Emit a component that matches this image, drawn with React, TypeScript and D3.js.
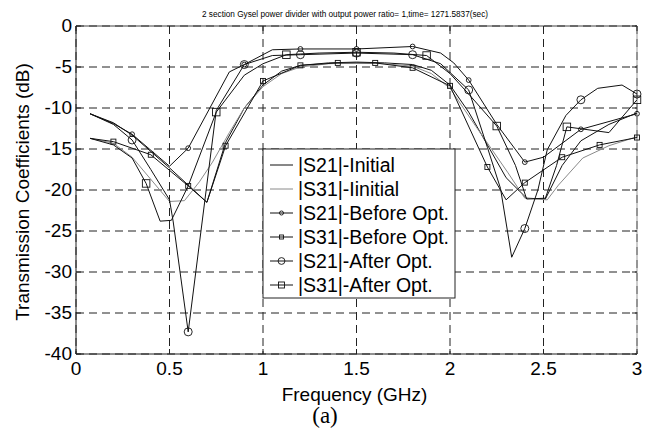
import React from 'react';
import * as d3 from 'd3';

const W = 655;
const H = 432;

const xTicks = [0, 0.5, 1, 1.5, 2, 2.5, 3];
const yTicks = [0, -5, -10, -15, -20, -25, -30, -35, -40];

const title = '2 section Gysel power divider with output power ratio= 1,time= 1271.5837(sec)';
const xLabel = 'Frequency (GHz)';
const yLabel = 'Transmission Coefficients (dB)';
const caption = '(a)';

// |S21|-Initial
const s21InitF = [0.075, 0.2, 0.3, 0.5, 0.7, 0.8, 0.9, 1.0, 1.1, 1.2, 1.35, 1.5, 1.65, 1.8, 1.9, 2.0, 2.1, 2.2, 2.3, 2.41, 2.51, 2.6, 2.7, 2.85, 3.0];
const s21InitDb = [-10.7, -11.8, -13.3, -17.3, -21.5, -14.2, -10.0, -7.2, -5.5, -4.8, -4.5, -4.4, -4.5, -4.7, -5.4, -7.2, -10.5, -14.5, -18.5, -21.0, -21.1, -17.0, -14.0, -12.0, -10.6];

// |S31|-Iinitial
const s31InitF = [0.075, 0.2, 0.3, 0.5, 0.58, 0.66, 0.73, 0.82, 0.9, 1.0, 1.1, 1.2, 1.35, 1.5, 1.65, 1.8, 1.9, 2.0, 2.14, 2.31, 2.4, 2.52, 2.58, 2.71, 2.85, 3.0];
const s31InitDb = [-13.7, -14.3, -16.0, -21.4, -21.3, -19.0, -16.6, -13.0, -10.0, -7.4, -5.8, -5.0, -4.6, -4.5, -4.6, -4.9, -5.8, -7.6, -12.3, -17.9, -21.0, -21.2, -19.4, -16.1, -14.6, -13.5];

// |S21|-Before Opt.
const s21BeforeF = [0.075, 0.2, 0.3, 0.5, 0.6, 0.82, 0.9, 1.05, 1.2, 1.5, 1.8, 1.95, 2.02, 2.1, 2.25, 2.4, 2.5, 2.7, 3.0];
const s21BeforeDb = [-10.7, -11.9, -13.2, -17.1, -14.9, -5.6, -4.7, -2.9, -2.8, -2.8, -2.5, -3.3, -4.5, -6.6, -12.0, -16.6, -16.0, -12.6, -10.7];
const s21BeforeMarks = [0.3, 0.6, 0.9, 1.2, 1.5, 1.8, 2.1, 2.4, 2.7, 3.0];

// |S31|-Before Opt.
const s31BeforeF = [0.075, 0.2, 0.4, 0.6, 0.7, 0.8, 1.0, 1.2, 1.4, 1.6, 1.8, 2.0, 2.2, 2.3, 2.4, 2.6, 2.8, 3.0];
const s31BeforeDb = [-13.7, -14.1, -15.7, -19.5, -21.5, -14.6, -6.7, -4.8, -4.5, -4.5, -5.1, -7.3, -17.2, -21.2, -19.1, -16.0, -14.5, -13.6];
const s31BeforeMarks = [0.2, 0.4, 0.6, 0.8, 1.0, 1.2, 1.4, 1.6, 1.8, 2.0, 2.2, 2.4, 2.6, 2.8, 3.0];

// |S21|-After Opt.
const s21AfterF = [0.075, 0.2, 0.3, 0.4, 0.5, 0.52, 0.6, 0.75, 0.9, 1.05, 1.2, 1.5, 1.8, 1.95, 2.1, 2.2, 2.27, 2.33, 2.4, 2.47, 2.52, 2.62, 2.7, 2.79, 2.92, 3.0];
const s21AfterDb = [-10.7, -12.0, -13.9, -17.5, -21.2, -23.9, -37.3, -10.3, -4.7, -3.6, -3.5, -3.3, -3.5, -4.6, -7.8, -14.8, -19.8, -28.2, -24.7, -20.0, -15.1, -10.9, -9.0, -7.6, -7.2, -8.3];
const s21AfterMarks = [0.3, 0.6, 0.9, 1.2, 1.5, 1.8, 2.1, 2.4, 2.7, 3.0];

// |S31|-After Opt.
const s31AfterF = [0.075, 0.2, 0.3, 0.375, 0.45, 0.51, 0.6, 0.75, 0.9, 1.0, 1.125, 1.3, 1.5, 1.7, 1.875, 2.0, 2.1, 2.25, 2.35, 2.41, 2.51, 2.57, 2.625, 2.85, 3.0];
const s31AfterDb = [-13.7, -14.5, -16.1, -19.2, -23.8, -23.7, -19.5, -10.5, -6.0, -4.6, -3.5, -3.3, -3.2, -3.3, -3.6, -5.8, -8.3, -12.2, -17.0, -21.1, -21.0, -17.0, -12.3, -13.0, -9.0];
const s31AfterMarks = [0.375, 0.75, 1.125, 1.5, 1.875, 2.25, 2.625, 3.0];

const legendLabels = ['|S21|-Initial', '|S31|-Iinitial', '|S21|-Before Opt.', '|S31|-Before Opt.', '|S21|-After Opt.', '|S31|-After Opt.'];

type Marker = 'none' | 'circle' | 'square';
interface Series {
  f: number[];
  db: number[];
  marks: number[];
  marker: Marker;
  size: number;
  color: string;
  label: string;
}

const series: Series[] = [
  { f: s21InitF, db: s21InitDb, marks: [], marker: 'none', size: 0, color: '#111', label: legendLabels[0] },
  { f: s31InitF, db: s31InitDb, marks: [], marker: 'none', size: 0, color: '#8a8a8a', label: legendLabels[1] },
  { f: s21BeforeF, db: s21BeforeDb, marks: s21BeforeMarks, marker: 'circle', size: 2.4, color: '#111', label: legendLabels[2] },
  { f: s31BeforeF, db: s31BeforeDb, marks: s31BeforeMarks, marker: 'square', size: 5, color: '#111', label: legendLabels[3] },
  { f: s21AfterF, db: s21AfterDb, marks: s21AfterMarks, marker: 'circle', size: 4, color: '#111', label: legendLabels[4] },
  { f: s31AfterF, db: s31AfterDb, marks: s31AfterMarks, marker: 'square', size: 7.5, color: '#111', label: legendLabels[5] },
];

const FONT = '"Liberation Sans", Arial, Helvetica, sans-serif';

function MarkerShape({ kind, cx, cy, size, color }: { kind: Marker; cx: number; cy: number; size: number; color: string }) {
  if (kind === 'circle') return <circle cx={cx} cy={cy} r={size} fill="none" stroke={color} strokeWidth={0.9} />;
  if (kind === 'square')
    return <rect x={cx - size / 2} y={cy - size / 2} width={size} height={size} fill="none" stroke={color} strokeWidth={0.9} />;
  return null;
}

export default function App() {
  const x = d3.scaleLinear().domain([0, 3]).range([76, 637]);
  const y = d3.scaleLinear().domain([-40, 0]).range([354, 26]);
  const [x0, x1] = x.range();
  const [y0, y1] = y.range();

  const line = d3
    .line<[number, number]>()
    .x((d) => x(d[0]))
    .y((d) => y(d[1]));

  const legend = { x: 263, y: 149, w: 192, h: 149, row: 24 };

  return (
    <svg width={W} height={H} style={{ position: 'absolute', left: 0, top: 0, background: '#fff' }} fontFamily={FONT}>
      <rect x={0} y={0} width={W} height={H} fill="#fff" />
      {/* grid */}
      {xTicks.map((t) => (
        <line key={'gx' + t} x1={x(t)} x2={x(t)} y1={y1} y2={y0} stroke="#222" strokeWidth={1} strokeDasharray="8,5" />
      ))}
      {yTicks.map((t) => (
        <line key={'gy' + t} x1={x0} x2={x1} y1={y(t)} y2={y(t)} stroke="#222" strokeWidth={1} strokeDasharray="8,5" />
      ))}
      {/* box */}
      <line x1={x0} x2={x1} y1={y1} y2={y1} stroke="#444" strokeWidth={1} />
      <line x1={x0} x2={x1} y1={y0} y2={y0} stroke="#222" strokeWidth={1} />
      <line x1={x0} x2={x0} y1={y0} y2={y1} stroke="#222" strokeWidth={1} />
      <line x1={x1} x2={x1} y1={y0} y2={y1} stroke="#999" strokeWidth={1} />
      {/* ticks */}
      {xTicks.map((t) => (
        <g key={'tx' + t}>
          <line x1={x(t)} x2={x(t)} y1={y0} y2={y0 - 5} stroke="#222" />
          <line x1={x(t)} x2={x(t)} y1={y1} y2={y1 + 5} stroke="#222" />
        </g>
      ))}
      {yTicks.map((t) => (
        <g key={'ty' + t}>
          <line x1={x0} x2={x0 + 5} y1={y(t)} y2={y(t)} stroke="#222" />
          <line x1={x1} x2={x1 - 5} y1={y(t)} y2={y(t)} stroke="#222" />
        </g>
      ))}
      {/* tick labels */}
      {xTicks.map((t) => (
        <text key={'lx' + t} x={x(t)} y={y0 + 21} fontSize={19} textAnchor="middle" fill="#000">
          {String(t)}
        </text>
      ))}
      {yTicks.map((t) => (
        <text key={'ly' + t} x={x0 - 4} y={y(t) + 6} fontSize={19} textAnchor="end" fill="#000">
          {String(t)}
        </text>
      ))}

      {/* series */}
      {series.map((s, i) => {
        const pts: [number, number][] = s.f.map((f, k) => [f, s.db[k]]);
        return (
          <g key={'s' + i}>
            <path d={line(pts) || ''} fill="none" stroke={s.color} strokeWidth={1} strokeLinejoin="round" />
            {s.marks.map((m) => {
              const k = s.f.findIndex((f) => Math.abs(f - m) < 1e-6);
              if (k < 0) return null;
              return <MarkerShape key={'m' + m} kind={s.marker} cx={x(s.f[k])} cy={y(s.db[k])} size={s.size} color={s.color} />;
            })}
          </g>
        );
      })}

      {/* legend */}
      <rect x={legend.x} y={legend.y} width={legend.w} height={legend.h} fill="#fff" stroke="#222" strokeWidth={1} />
      {series.map((s, i) => {
        const cy = legend.y + 16 + i * legend.row;
        return (
          <g key={'lg' + i}>
            <line x1={legend.x + 7} x2={legend.x + 30} y1={cy} y2={cy} stroke={s.color} strokeWidth={1} />
            <MarkerShape kind={s.marker} cx={legend.x + 18.5} cy={cy} size={s.marker === 'circle' ? s.size * 0.85 : s.size * 0.8} color={s.color} />
            <text x={legend.x + 35} y={cy + 7} fontSize={19.5} fill="#000">
              {s.label}
            </text>
          </g>
        );
      })}

      {/* titles */}
      <text x={202} y={17} fontSize={8.5} textLength={286} lengthAdjust="spacingAndGlyphs" fill="#000">
        {title}
      </text>
      <text x={(x0 + x1) / 2 - 2} y={401} fontSize={19} textAnchor="middle" fill="#000">
        {xLabel}
      </text>
      <text transform={`translate(29, ${(y0 + y1) / 2 + 2}) rotate(-90)`} fontSize={19} textAnchor="middle" fill="#000">
        {yLabel}
      </text>
      <text x={325} y={423} fontSize={23} textAnchor="middle" fontFamily={'"Liberation Serif", "Times New Roman", serif'} fill="#000">
        {caption}
      </text>
    </svg>
  );
}
